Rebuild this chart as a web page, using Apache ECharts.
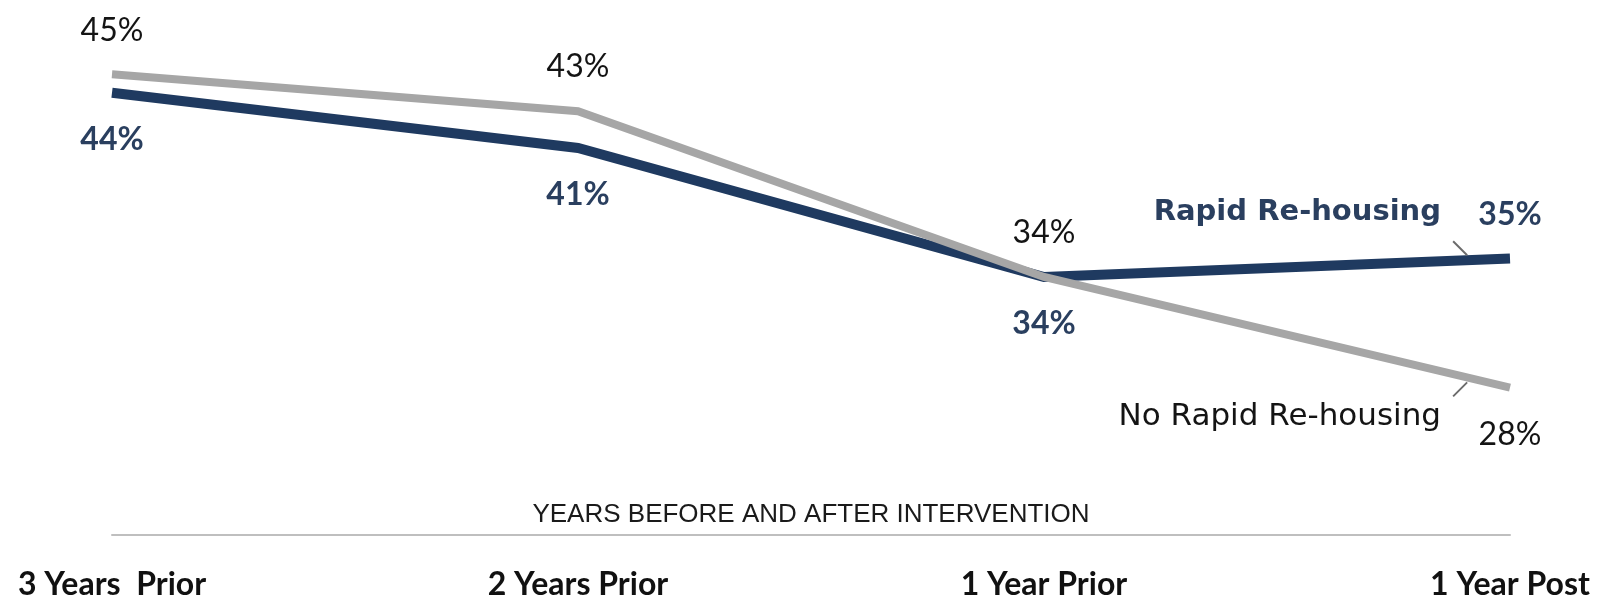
<!DOCTYPE html>
<html>
<head>
<meta charset="utf-8">
<script src="https://cdn.jsdelivr.net/npm/echarts@6/dist/echarts.min.js"></script>
<style>
  html, body { margin: 0; padding: 0; background: #ffffff; }
  #chart { width: 1602px; height: 596px; }
</style>
</head>
<body>
<div id="chart"></div>
<script>
// ---- data ----
const categories = ['3 Years  Prior', '2 Years Prior', '1 Year Prior', '1 Year Post'];
const rapidRehousing = [44, 41, 34, 35];
const noRapidRehousing = [45, 43, 34, 28];
const seriesNames = ['Rapid Re-housing', 'No Rapid Re-housing'];
const axisTitle = 'YEARS BEFORE AND AFTER INTERVENTION';

// label placement (style, kept apart from values)
const rapidLabelSide = ['bottom', 'bottom', 'bottom', 'top'];
const noRapidLabelSide = ['top', 'top', 'top', 'bottom'];

const NAVY = '#1f3a60';
const NAVY_TEXT = '#2a3f5f';
const GRAY = '#a6a6a6';
const FONT = 'Lato, "Open Sans", sans-serif';
const NAME_FONT = '"DejaVu Sans", "Open Sans", sans-serif';

function buildData(values, sides) {
  return values.map((v, i) => ({
    value: v,
    label: { position: sides[i], distance: sides[i] === 'top' ? 28 : 31 }
  }));
}

const chart = echarts.init(document.getElementById('chart'), null, { renderer: 'canvas' });

const lastIdx = categories.length - 1;

const option = {
  animation: false,
  backgroundColor: '#ffffff',
  grid: { left: 112, right: 92, top: 19, bottom: 61, containLabel: false, outerBoundsMode: 'none' },
  xAxis: {
    type: 'category',
    data: categories,
    boundaryGap: false,
    axisLine: { show: true, lineStyle: { color: '#bfbfbf', width: 2 } },
    axisTick: { show: false },
    axisLabel: {
      margin: 34,
      fontFamily: FONT,
      fontSize: 32,
      fontWeight: 'bold',
      color: '#111111'
    },
    name: axisTitle,
    nameLocation: 'middle',
    nameGap: -7,
    nameMoveOverlap: false,
    nameTextStyle: {
      fontFamily: '"Liberation Sans Narrow", "Liberation Sans", sans-serif',
      fontSize: 26,
      color: '#1a1a1a',
      verticalAlign: 'bottom'
    },
    splitLine: { show: false }
  },
  yAxis: {
    type: 'value',
    min: 20,
    max: 48,
    show: false,
    splitLine: { show: false }
  },
  series: [
    {
      name: seriesNames[0],
      type: 'line',
      data: buildData(rapidRehousing, rapidLabelSide),
      symbol: 'circle',
      symbolSize: 0.1,
      showSymbol: true,
      lineStyle: { color: NAVY, width: 10, cap: 'butt', join: 'miter' },
      itemStyle: { color: NAVY },
      z: 2,
      label: {
        show: true,
        formatter: p => p.value + '%',
        fontFamily: FONT,
        fontSize: 32,
        fontWeight: 'bold',
        color: NAVY_TEXT
      },
      markPoint: {
        symbol: 'circle',
        symbolSize: 0,
        silent: true,
        data: [{ coord: [lastIdx, rapidRehousing[lastIdx]], name: seriesNames[0] }],
        label: {
          show: true,
          position: 'inside',
          formatter: p => p.name,
          align: 'right',
          verticalAlign: 'middle',
          offset: [-69, -46],
          fontFamily: NAME_FONT,
          fontSize: 29,
          fontWeight: 'bold',
          color: NAVY_TEXT
        }
      }
    },
    {
      name: seriesNames[1],
      type: 'line',
      data: buildData(noRapidRehousing, noRapidLabelSide),
      symbol: 'circle',
      symbolSize: 0.1,
      showSymbol: true,
      lineStyle: { color: GRAY, width: 8, cap: 'butt', join: 'miter' },
      itemStyle: { color: GRAY },
      z: 3,
      label: {
        show: true,
        formatter: p => p.value + '%',
        fontFamily: FONT,
        fontSize: 32,
        color: '#141414'
      },
      markPoint: {
        symbol: 'circle',
        symbolSize: 0,
        silent: true,
        data: [{ coord: [lastIdx, noRapidRehousing[lastIdx]], name: seriesNames[1] }],
        label: {
          show: true,
          position: 'inside',
          formatter: p => p.name,
          align: 'right',
          verticalAlign: 'middle',
          offset: [-69, 29],
          fontFamily: NAME_FONT,
          fontSize: 31,
          color: '#141414'
        }
      }
    }
  ]
};

chart.setOption(option);

// leader lines from each series-name label to its line, positioned via the chart's own scales
function leader(values, up) {
  const a = chart.convertToPixel({ seriesIndex: 0 }, [lastIdx - 1, values[lastIdx - 1]]);
  const b = chart.convertToPixel({ seriesIndex: 0 }, [lastIdx, values[lastIdx]]);
  const t = 0.908;
  const px = a[0] + (b[0] - a[0]) * t;
  const py = a[1] + (b[1] - a[1]) * t;
  const s = up ? -1 : 1;
  return {
    type: 'line',
    silent: true,
    z: 10,
    shape: { x1: px, y1: py + s * 5, x2: px - 14, y2: py + s * 19 },
    style: { stroke: '#6b6b6b', lineWidth: 2 }
  };
}

chart.setOption({
  graphic: [leader(rapidRehousing, true), leader(noRapidRehousing, false)]
});
</script>
</body>
</html>
